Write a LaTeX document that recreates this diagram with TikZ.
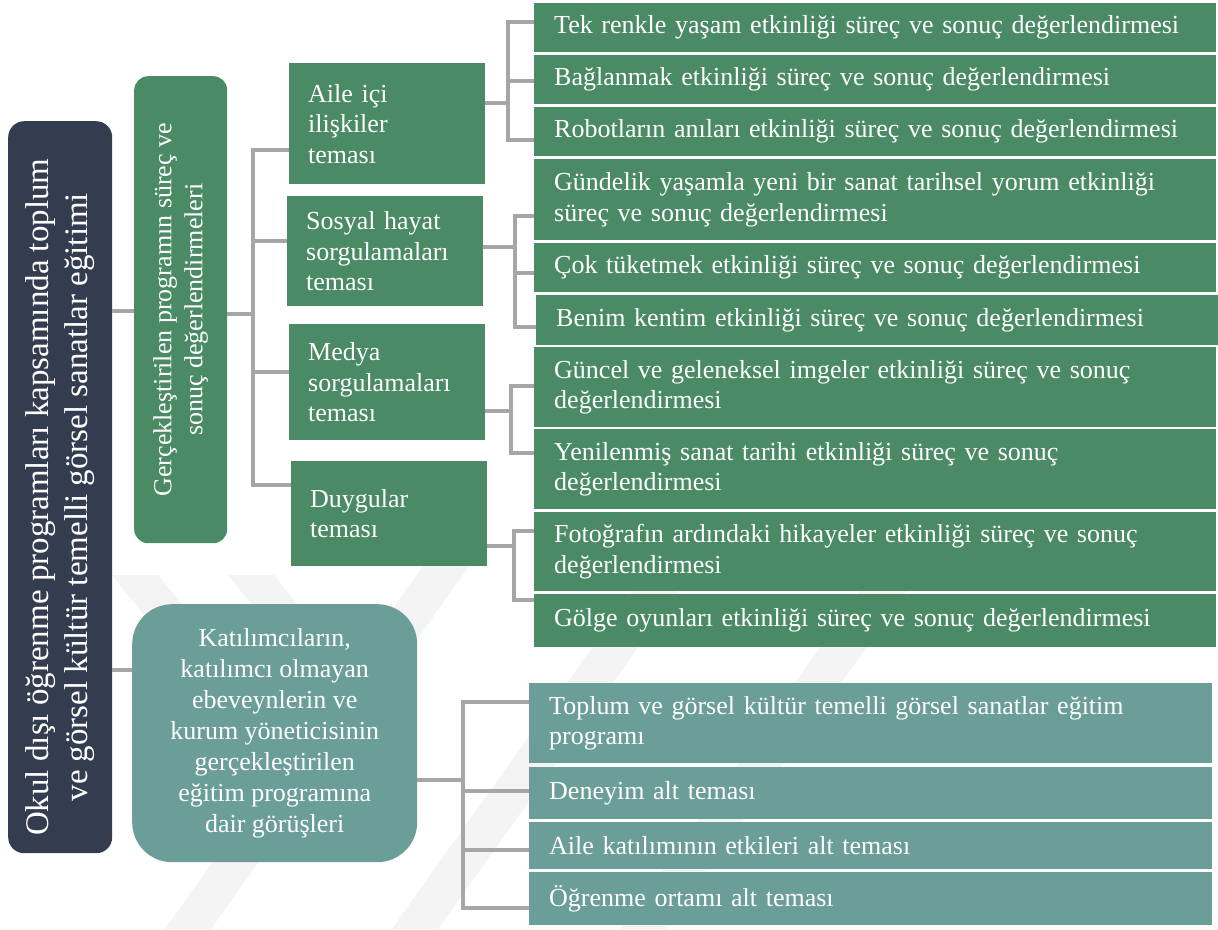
\documentclass[tikz,border=0pt]{standalone}
\usepackage{fontspec}
\setmainfont{Liberation Serif}
\usetikzlibrary{calc}
\definecolor{rootblue}{HTML}{333D4F}
\definecolor{leafgreen}{HTML}{4A8A65}
\definecolor{tealbox}{HTML}{6B9E99}
\definecolor{linkgray}{HTML}{A6A6A6}
\definecolor{markgray}{HTML}{F4F4F4}
\tikzset{
  base/.style={anchor=north west, text=white, inner ysep=0pt, font=\fontsize{26}{30.5}\selectfont},
  leafbox/.style={base, fill=leafgreen, minimum width=682pt, text width=642pt, inner xsep=20pt, align=left},
  opinbox/.style={base, fill=tealbox, minimum width=683pt, text width=643pt, inner xsep=20pt, align=left},
  themebox/.style={base, fill=leafgreen, minimum width=196pt, text width=158pt, inner xsep=19pt, align=left},
  link/.style={draw=linkgray, line width=4pt, line join=miter},
}
\begin{document}
\begin{tikzpicture}[x=1pt,y=-1pt]
\useasboundingbox (0,0) rectangle (1218,929);
\fill[white] (0,0) rectangle (1218,929);

% faint watermark bands in the background
\begin{scope}
\clip (0,540) rectangle (1218,929);
\fill[markgray] (112,575) -- (158,575) -- (258,700) -- (212,700) -- cycle;
\fill[markgray] (228,575) -- (274,575) -- (374,700) -- (328,700) -- cycle;
\fill[markgray] (165,929) -- (211,929) -- (516,500) -- (470,500) -- cycle;
\fill[markgray] (392,929) -- (438,929) -- (743,500) -- (697,500) -- cycle;
\fill[markgray] (620,929) -- (666,929) -- (971,500) -- (925,500) -- cycle;
\end{scope}

% root and first-level boxes
\node[base, fill=rootblue, rounded corners=16pt, minimum width=104pt, minimum height=732pt, inner sep=0pt] (root) at (8,121)
  {\rotatebox{90}{\fontsize{33}{38.4}\selectfont\begin{tabular}{@{}c@{}}Okul dışı öğrenme programları kapsamında toplum\\ ve görsel kültür temelli görsel sanatlar eğitimi\end{tabular}\hspace{20pt}}};
\node[base, fill=leafgreen, rounded corners=14pt, minimum width=93pt, minimum height=467pt, inner sep=0pt] (eval) at (134,76)
  {\rotatebox{90}{\fontsize{26}{31}\selectfont\begin{tabular}{@{}c@{}}Gerçekleştirilen programın süreç ve\\ sonuç değerlendirmeleri\end{tabular}}};
\node[base, fill=tealbox, rounded corners=40pt, minimum width=285pt, minimum height=258pt, inner sep=0pt, align=center, font=\fontsize{26}{31}\selectfont] (views) at (132,604)
  {Katılımcıların,\\ katılımcı olmayan\\ ebeveynlerin ve\\ kurum yöneticisinin\\ gerçekleştirilen\\ eğitim programına\\ dair görüşleri};

% themes
\node[themebox, minimum height=121pt] (family) at (289,63) {Aile içi\\ ilişkiler\\ teması};
\node[themebox, minimum height=110pt] (social) at (287,196) {Sosyal hayat\\ sorgulamaları\\ teması};
\node[themebox, minimum height=116pt] (media) at (289,324) {Medya\\ sorgulamaları\\ teması};
\node[themebox, minimum height=105pt] (feel) at (291,461) {Duygular\\ teması};

% activity evaluations
\node[leafbox, minimum height=49pt] (l1) at (534,3) {Tek renkle yaşam etkinliği süreç ve sonuç değerlendirmesi};
\node[leafbox, minimum height=49pt] (l2) at (534,55) {Bağlanmak etkinliği süreç ve sonuç değerlendirmesi};
\node[leafbox, minimum height=49pt] (l3) at (534,107) {Robotların anıları etkinliği süreç ve sonuç değerlendirmesi};
\node[leafbox, minimum height=81pt] (l4) at (534,159) {Gündelik yaşamla yeni bir sanat tarihsel yorum etkinliği\\ süreç ve sonuç değerlendirmesi};
\node[leafbox, minimum height=49pt] (l5) at (534,243) {Çok tüketmek etkinliği süreç ve sonuç değerlendirmesi};
\node[leafbox, minimum height=50pt, minimum width=680pt] (l6) at (536,295) {Benim kentim etkinliği süreç ve sonuç değerlendirmesi};
\node[leafbox, minimum height=80pt] (l7) at (534,347) {Güncel ve geleneksel imgeler etkinliği süreç ve sonuç\\ değerlendirmesi};
\node[leafbox, minimum height=80pt] (l8) at (534,429) {Yenilenmiş sanat tarihi etkinliği süreç ve sonuç\\ değerlendirmesi};
\node[leafbox, minimum height=79pt] (l9) at (534,512) {Fotoğrafın ardındaki hikayeler etkinliği süreç ve sonuç\\ değerlendirmesi};
\node[leafbox, minimum height=53pt] (l10) at (534,594) {Gölge oyunları etkinliği süreç ve sonuç değerlendirmesi};

% opinion sub-themes
\node[opinbox, minimum height=80pt] (o1) at (529,683) {Toplum ve görsel kültür temelli görsel sanatlar eğitim\\ programı};
\node[opinbox, minimum height=52pt] (o2) at (529,767) {Deneyim alt teması};
\node[opinbox, minimum height=47pt] (o3) at (529,822) {Aile katılımının etkileri alt teması};
\node[opinbox, minimum height=53pt] (o4) at (529,872) {Öğrenme ortamı alt teması};

% root connectors
\coordinate (rA) at ($(root.north east)!.26!(root.south east)$);
\coordinate (rB) at ($(root.north east)!.75!(root.south east)$);
\draw[link] (rA) -- (eval.west |- rA);
\draw[link] (rB) -- (views.west |- rB);

% evaluation -> themes
\draw[link] ($(eval.north east)!.51!(eval.south east)$) -- ++(26,0) coordinate (tE);
\foreach \n/\f in {family/.72, social/.41, media/.41, feel/.23}
  \draw[link] (tE) |- ($(\n.north west)!\f!(\n.south west)$);

% themes -> activities
\draw[link] ($(family.north east)!.33!(family.south east)$) -- ++(23,0) coordinate (tF);
\foreach \n/\f in {l1/.39, l2/.53, l3/.67}
  \draw[link] (tF) |- ($(\n.north west)!\f!(\n.south west)$);
\draw[link] ($(social.north east)!.46!(social.south east)$) -- ++(32,0) coordinate (tS);
\foreach \n/\f in {l4/.70, l5/.61, l6/.64}
  \draw[link] (tS) |- ($(\n.north west)!\f!(\n.south west)$);
\draw[link] ($(media.north east)!.75!(media.south east)$) -- ++(26,0) coordinate (tM);
\foreach \n/\f in {l7/.49, l8/.30}
  \draw[link] (tM) |- ($(\n.north west)!\f!(\n.south west)$);
\draw[link] ($(feel.north east)!.81!(feel.south east)$) -- ++(27,0) coordinate (tD);
\foreach \n/\f in {l9/.24, l10/.11}
  \draw[link] (tD) |- ($(\n.north west)!\f!(\n.south west)$);

% opinions -> sub-themes
\draw[link] ($(views.north east)!.68!(views.south east)$) -- ++(46,0) coordinate (tV);
\foreach \n/\f in {o1/.23, o2/.45, o3/.6, o4/.68}
  \draw[link] (tV) |- ($(\n.north west)!\f!(\n.south west)$);
\end{tikzpicture}
\end{document}
